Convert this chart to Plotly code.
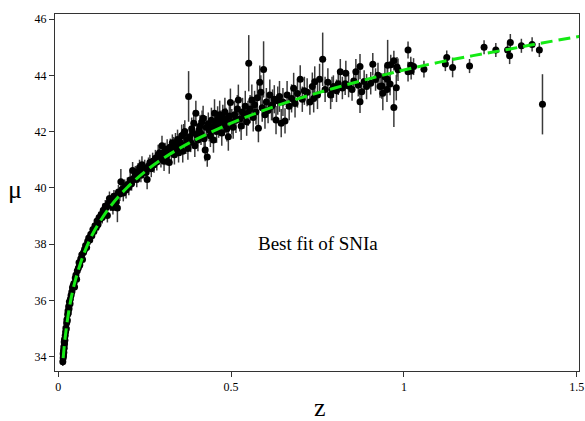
import plotly.graph_objects as go

# ---------------- data ----------------
z_sn = [
    0.013, 0.014, 0.014, 0.015, 0.015, 0.016, 0.016, 0.017, 0.017, 0.018,
    0.018, 0.019, 0.020, 0.021, 0.022, 0.023, 0.024, 0.025, 0.026, 0.027,
    0.028, 0.029, 0.030, 0.031, 0.032, 0.034, 0.035, 0.037, 0.039, 0.041,
    0.043, 0.045, 0.047, 0.049, 0.051, 0.053, 0.055, 0.058, 0.060, 0.062,
    0.065, 0.068, 0.070, 0.073, 0.076, 0.079, 0.082, 0.085, 0.088, 0.091,
    0.094, 0.097, 0.100, 0.103, 0.106, 0.110,
    0.112, 0.115, 0.118, 0.121, 0.124, 0.127, 0.130, 0.133, 0.136, 0.139,
    0.142, 0.145, 0.148, 0.151, 0.155, 0.158, 0.161, 0.165, 0.168, 0.171,
    0.174, 0.178, 0.181, 0.185, 0.188, 0.192, 0.196, 0.200, 0.204, 0.208,
    0.212, 0.215, 0.219, 0.223, 0.227, 0.231, 0.235, 0.239, 0.242, 0.246,
    0.250, 0.254, 0.257, 0.261, 0.265, 0.269, 0.273, 0.277, 0.281, 0.285,
    0.289, 0.293, 0.297, 0.300,
    0.303, 0.306, 0.309, 0.312, 0.315, 0.318, 0.321, 0.324, 0.327, 0.330,
    0.333, 0.336, 0.339, 0.342, 0.345, 0.348, 0.351, 0.354, 0.357, 0.360,
    0.363, 0.366, 0.369, 0.372, 0.375, 0.377, 0.380, 0.383, 0.386, 0.389,
    0.392, 0.395, 0.398, 0.401, 0.404, 0.407, 0.410, 0.413, 0.416, 0.419,
    0.422, 0.425, 0.428, 0.431, 0.434, 0.437, 0.440, 0.443, 0.446, 0.449,
    0.452, 0.455, 0.458, 0.461, 0.464, 0.467, 0.470, 0.473, 0.476, 0.479,
    0.482, 0.485, 0.488, 0.492, 0.495, 0.498,
    0.502, 0.506, 0.510, 0.514, 0.518, 0.521, 0.525, 0.529, 0.533, 0.537,
    0.541, 0.545, 0.549, 0.551, 0.555, 0.560, 0.564, 0.568, 0.572, 0.576,
    0.579, 0.583, 0.586, 0.590, 0.594, 0.598, 0.602, 0.607, 0.612, 0.617,
    0.620, 0.625, 0.630, 0.635, 0.640, 0.645, 0.650, 0.656, 0.662, 0.668,
    0.675, 0.681, 0.685, 0.692, 0.700, 0.706, 0.712, 0.720, 0.728, 0.735,
    0.739, 0.742, 0.750, 0.756, 0.765, 0.772, 0.780, 0.788, 0.792,
    0.796, 0.805, 0.810, 0.816, 0.822, 0.830, 0.832, 0.840, 0.850, 0.855,
    0.861, 0.868, 0.873, 0.873, 0.878, 0.885, 0.892, 0.904, 0.910, 0.918,
    0.925, 0.931, 0.936, 0.939, 0.945, 0.951, 0.952, 0.953, 0.960, 0.962,
    0.971, 0.971, 0.978, 0.980, 0.983, 1.012, 1.012, 1.021, 1.020, 1.028,
    1.058, 1.120, 1.124, 1.141, 1.190, 1.232, 1.266, 1.300, 1.306, 1.308,
    1.340, 1.371, 1.392, 1.401,
]

mu_sn = [
    33.82, 33.95, 34.10, 34.02, 34.22, 34.15, 34.35, 34.30, 34.52, 34.45,
    34.62, 34.58, 34.75, 34.88, 35.02, 34.98, 35.20, 35.32, 35.28, 35.50,
    35.62, 35.55, 35.78, 35.70, 35.95, 35.88, 36.05, 36.18, 36.30, 36.45,
    36.52, 36.60, 36.48, 36.80, 36.90, 36.75, 37.05, 37.15, 37.35, 37.25,
    37.48, 37.62, 37.45, 37.70, 37.82, 37.95, 37.88, 38.10, 38.22, 38.15,
    38.35, 38.30, 38.52, 38.45, 38.65, 38.60,
    38.82, 38.70, 38.95, 38.88, 39.05, 38.95, 39.20, 39.10, 39.35, 39.30,
    39.02, 39.45, 39.62, 39.38, 39.55, 39.30, 39.70, 39.62, 39.50, 39.28,
    39.85, 39.78, 40.22, 39.95, 39.82, 40.05, 39.92, 40.12, 40.02, 40.28,
    40.15, 40.62, 40.35, 40.48, 40.30, 40.58, 40.72, 40.45, 40.82, 40.62,
    40.70, 40.55, 40.30, 40.78, 40.90, 40.68, 40.95, 40.82, 41.05, 40.92,
    41.18, 41.25, 41.02, 41.50,
    41.15, 40.95, 41.30, 41.10, 41.38, 41.22, 40.90, 41.45, 41.30, 41.60,
    41.46, 41.18, 41.55, 41.38, 41.72, 41.25, 41.64, 41.48, 41.85, 41.30,
    41.92, 42.00, 41.55, 41.70, 41.40, 43.25, 41.82, 41.62, 42.10, 41.95,
    42.30, 41.50, 42.65, 41.88, 41.70, 42.05, 42.20, 41.92, 42.35, 42.47,
    41.75, 41.35, 42.15, 41.10, 42.28, 42.05, 41.85, 42.40, 42.15, 41.70,
    42.65, 42.30, 42.00, 42.45, 42.18, 42.60, 42.35, 41.95, 42.50, 42.25,
    42.70, 42.40, 42.10, 41.82, 42.55, 43.03,
    42.35, 42.15, 42.60, 42.40, 42.80, 43.12, 42.45, 42.20, 42.70, 42.55,
    42.90, 42.35, 42.65, 44.43, 42.80, 43.12, 42.50, 42.95, 42.70, 43.20,
    42.12, 43.75, 43.40, 42.85, 44.21, 42.60, 43.05, 42.75, 43.30, 42.90,
    42.95, 43.15, 42.41, 43.10, 43.25, 42.30, 43.05, 42.38, 43.30, 42.90,
    43.18, 43.54, 43.00, 43.35, 43.86, 43.15, 43.45, 43.40, 43.05, 43.60,
    43.18, 43.77, 43.30, 43.86, 44.57, 43.50, 43.75, 43.30, 43.50,
    43.60, 43.45, 43.70, 44.13, 43.55, 43.70, 44.07, 43.62, 43.50, 43.80,
    44.13, 43.65, 44.31, 43.06, 43.42, 43.78, 43.60, 43.72, 44.39, 43.85,
    44.00, 43.60, 43.62, 43.36, 43.95, 43.50, 43.86, 44.36, 43.69, 44.38,
    44.52, 42.86, 43.56, 44.30, 44.20, 44.90, 44.13, 44.15, 44.36, 44.31,
    44.22, 44.40, 44.63, 44.28, 44.33, 45.00, 44.90, 44.90, 44.70, 45.17,
    45.05, 45.10, 44.90, 42.97,
]

err_sn = [
    0.15, 0.18, 0.15, 0.20, 0.15, 0.18, 0.20, 0.15, 0.17, 0.20,
    0.15, 0.18, 0.20, 0.16, 0.18, 0.15, 0.20, 0.17, 0.15, 0.20,
    0.18, 0.15, 0.20, 0.17, 0.18, 0.15, 0.20, 0.17, 0.20, 0.18,
    0.20, 0.17, 0.20, 0.18, 0.20, 0.17, 0.20, 0.18, 0.20, 0.17,
    0.20, 0.20, 0.18, 0.20, 0.18, 0.20, 0.17, 0.20, 0.20, 0.18,
    0.20, 0.20, 0.20, 0.22, 0.20, 0.20,
    0.20, 0.22, 0.20, 0.25, 0.20, 0.22, 0.25, 0.20, 0.22, 0.25,
    0.25, 0.22, 0.25, 0.20, 0.25, 0.25, 0.22, 0.25, 0.30, 0.50,
    0.25, 0.25, 0.45, 0.25, 0.30, 0.25, 0.30, 0.25, 0.28, 0.30,
    0.25, 0.30, 0.25, 0.30, 0.28, 0.30, 0.28, 0.25, 0.30, 0.28,
    0.30, 0.25, 0.35, 0.30, 0.28, 0.30, 0.30, 0.28, 0.30, 0.30,
    0.35, 0.30, 0.30, 0.35,
    0.30, 0.35, 0.30, 0.30, 0.35, 0.30, 0.40, 0.30, 0.35, 0.30,
    0.35, 0.35, 0.40, 0.30, 0.35, 0.35, 0.30, 0.35, 0.40, 0.40,
    0.35, 0.40, 0.35, 0.35, 0.40, 0.90, 0.35, 0.35, 0.40, 0.35,
    0.45, 0.40, 0.45, 0.35, 0.40, 0.35, 0.40, 0.40, 0.40, 0.45,
    0.40, 0.40, 0.40, 0.35, 0.40, 0.40, 0.40, 0.45, 0.40, 0.45,
    0.50, 0.40, 0.40, 0.45, 0.40, 0.50, 0.40, 0.45, 0.45, 0.40,
    0.50, 0.45, 0.45, 0.50, 0.45, 0.50,
    0.45, 0.40, 0.50, 0.45, 0.50, 0.55, 0.45, 0.50, 0.50, 0.45,
    0.55, 0.50, 0.45, 1.00, 0.50, 0.55, 0.50, 0.50, 0.45, 0.55,
    0.50, 0.60, 0.60, 0.50, 1.00, 0.50, 0.50, 0.45, 0.55, 0.50,
    0.55, 0.50, 0.50, 0.50, 0.55, 0.50, 0.50, 0.45, 0.50, 0.50,
    0.50, 0.55, 0.50, 0.50, 0.50, 0.45, 0.50, 0.50, 0.45, 0.50,
    0.50, 0.55, 0.50, 0.55, 0.95, 0.45, 0.50, 0.50, 0.45,
    0.40, 0.40, 0.40, 0.45, 0.40, 0.40, 0.45, 0.40, 0.40, 0.40,
    0.45, 0.40, 0.45, 0.40, 0.40, 0.40, 0.45, 0.40, 0.40, 0.40,
    0.45, 0.40, 0.45, 0.60, 0.40, 0.45, 0.40, 0.90, 0.40, 0.35,
    0.35, 0.70, 0.45, 0.35, 0.40, 0.30, 0.35, 0.30, 0.30, 0.30,
    0.30, 0.25, 0.25, 0.35, 0.25, 0.25, 0.25, 0.25, 0.30, 0.30,
    0.25, 0.25, 0.25, 1.07,
]

# best-fit curve
z_fit = [0.014, 0.02, 0.03, 0.04, 0.05, 0.07, 0.10, 0.15, 0.20, 0.25, 0.30,
         0.35, 0.40, 0.50, 0.60, 0.70, 0.80, 0.90, 1.00, 1.10, 1.20, 1.30,
         1.40, 1.51]
mu_fit = [33.95, 34.70, 35.60, 36.25, 36.75, 37.53, 38.38, 39.33, 40.02,
          40.57, 41.02, 41.40, 41.73, 42.30, 42.78, 43.19, 43.55, 43.88,
          44.19, 44.46, 44.70, 44.92, 45.15, 45.39]

x_ticks = [0, 0.5, 1, 1.5]
x_tick_labels = ["0", "0.5", "1", "1.5"]
y_ticks = [34, 36, 38, 40, 42, 44, 46]

# ---------------- figure ----------------
FONT = "Liberation Serif, Times New Roman, serif"
L, R, T, B = 55, 6, 14, 50
PW, PH = 585 - L - R, 421 - T - B

fig = go.Figure()
fig.add_trace(go.Scatter(
    x=z_sn, y=mu_sn, mode="markers",
    marker=dict(color="black", size=7),
    error_y=dict(type="data", array=err_sn, visible=True,
                 color="#3a3a3a", thickness=1.5, width=0),
    showlegend=False, hoverinfo="x+y",
))
fig.add_trace(go.Scatter(
    x=z_fit, y=mu_fit, mode="lines",
    line=dict(color="#14ea14", width=3, dash="12px,6px", shape="spline"),
    showlegend=False, hoverinfo="skip",
))

axis_common = dict(
    ticks="outside", ticklen=5, tickwidth=1, tickcolor="#333",
    showline=True, linecolor="#333", linewidth=1, mirror=True,
    showgrid=False, zeroline=False, automargin=False,
    tickfont=dict(family=FONT, size=12, color="black"),
)

fig.update_layout(
    template="none",
    width=585, height=421, autosize=False,
    margin=dict(l=L, r=R, t=T, b=B),
    paper_bgcolor="white", plot_bgcolor="white",
    font=dict(family=FONT, size=12, color="black"),
    xaxis=dict(range=[-0.0096, 1.5067], tickvals=x_ticks,
               ticktext=x_tick_labels, **axis_common),
    yaxis=dict(range=[33.49, 46.18], tickvals=y_ticks, **axis_common),
    annotations=[
        dict(text="Best fit of SNIa", x=0.752, y=38.04, xref="x", yref="y",
             showarrow=False, font=dict(family=FONT, size=19, color="black")),
        dict(text="μ", x=(15 - L) / PW, y=(421 - B - 189) / PH,
             xref="paper", yref="paper", xanchor="center", yanchor="middle",
             showarrow=False, font=dict(family=FONT, size=26, color="black")),
        dict(text="z", x=(320 - L) / PW, y=-(407 - (421 - B)) / PH,
             xref="paper", yref="paper", xanchor="center", yanchor="middle",
             showarrow=False, font=dict(family=FONT, size=26, color="black")),
    ],
)

fig.write_html(
    "out.html",
    config={"displayModeBar": False},
    post_script="document.body.style.margin='0';document.body.style.padding='0';",
)
